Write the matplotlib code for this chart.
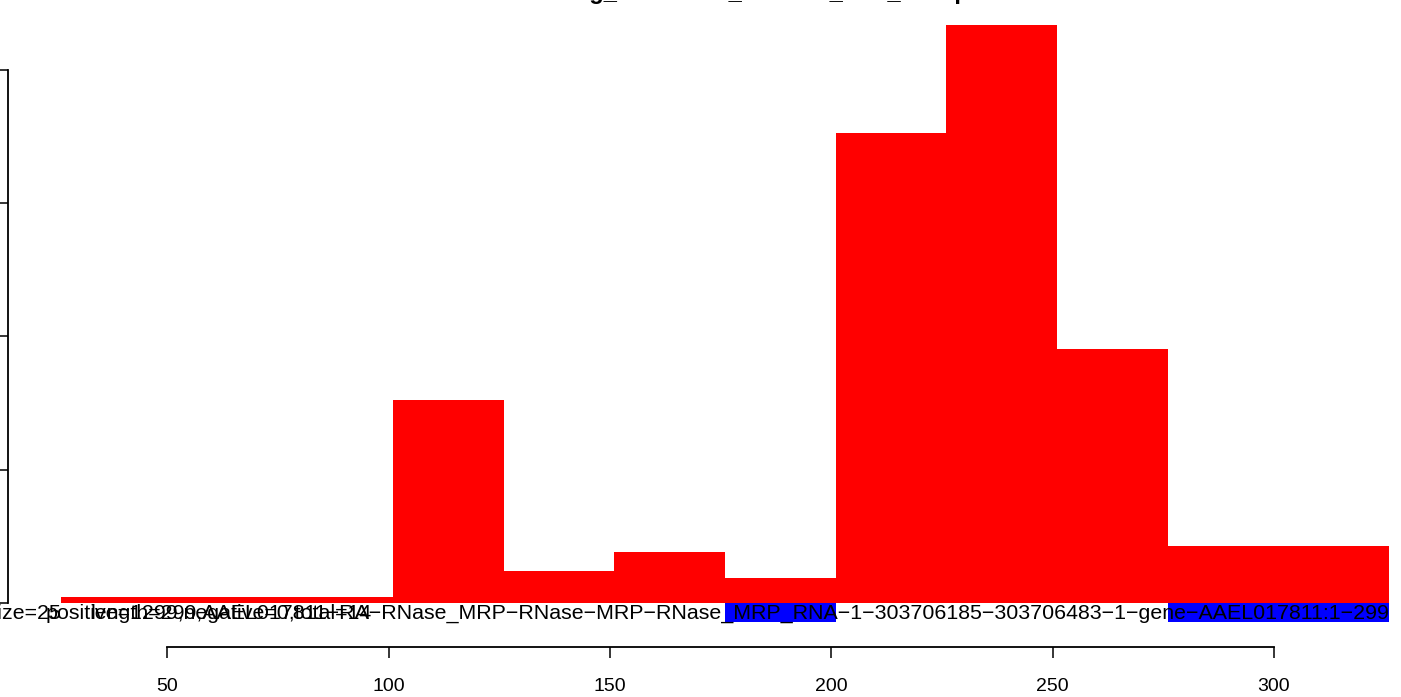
import matplotlib
matplotlib.use("Agg")
import matplotlib.pyplot as plt
from matplotlib.patches import Rectangle

# histogram data (bin width 25)
bin_edges = [26, 51, 76, 101, 126, 151, 176, 201, 226, 251, 276, 301, 326]
counts = [1, 1, 1, 32, 5, 8, 4, 74, 91, 40, 9, 9]
highlight = [(176, 201), (276, 326)]
x_ticks = [50, 100, 150, 200, 250, 300]
y_ticks = [0, 21, 42, 63, 84]

title = "Aaeg_smallRNA_cleaned_trim_collapsed"
txt_bin = "bin size=25"
txt_stats = "positive=1299,negative=0,total=14"
txt_name = ("length=299,AAEL017811-RA-RNase_MRP-RNase-MRP-RNase_MRP_RNA-1-"
            "303706185-303706483-1-gene-AAEL017811:1-299")

plt.rcParams["font.family"] = ["Liberation Sans", "DejaVu Sans"]

W, H = 1401, 697
fig = plt.figure(figsize=(W / 100, H / 100), dpi=100)
# axes box in pixels: left 8, right 1401, bottom spine at y=647, top at 0
ax = fig.add_axes([8 / W, (H - 647) / H, (W - 8) / W, 647 / H])

px_x = 4.427   # pixels per x unit
px_y = 6.35    # pixels per count
ax.set_xlim(26 - (61 - 8) / px_x, 26 + (W - 61) / px_x)
ax.set_ylim(-(647 - 603) / px_y, 603 / px_y)

widths = [b - a for a, b in zip(bin_edges[:-1], bin_edges[1:])]
ax.bar(bin_edges[:-1], counts, width=widths, align="edge", color="#ff0000",
       edgecolor="none", linewidth=0)

for a, b in highlight:
    ax.add_patch(Rectangle((a, -19 / px_y), b - a, 19 / px_y,
                           facecolor="#0000ff", edgecolor="none", zorder=3))

for s in ["top", "right"]:
    ax.spines[s].set_visible(False)
ax.spines["bottom"].set_bounds(x_ticks[0], x_ticks[-1])
ax.spines["left"].set_bounds(y_ticks[0], y_ticks[-1])
for s in ["bottom", "left"]:
    ax.spines[s].set_linewidth(1.3)

ax.set_xticks(x_ticks)
ax.set_xticklabels([str(v) for v in x_ticks])
ax.set_yticks(y_ticks)
ax.set_yticklabels([str(v) for v in y_ticks])
ax.tick_params(axis="x", direction="out", length=8, width=1.1, pad=14,
               labelsize=14)
ax.tick_params(axis="y", direction="out", length=8, width=1.1, labelsize=14)
ax.patch.set_visible(False)

# annotation line under the bars
ty = 1 - 619 / H
fs = 15.4
fig.text(61 / W, ty, txt_bin, ha="right", va="baseline", fontsize=fs,
         zorder=5)
fig.text(46 / W, ty, txt_stats, ha="left", va="baseline", fontsize=fs,
         zorder=5)
fig.text(1389 / W, ty, txt_name.replace("-", "\u2212"), ha="right",
         va="baseline", fontsize=fs, zorder=5)

# title, mostly above the figure edge
fig.text(778 / W, 1 + 1 / H, title, ha="center", va="baseline",
         fontsize=17, fontweight="bold")

fig.savefig("out.png", dpi=100)
